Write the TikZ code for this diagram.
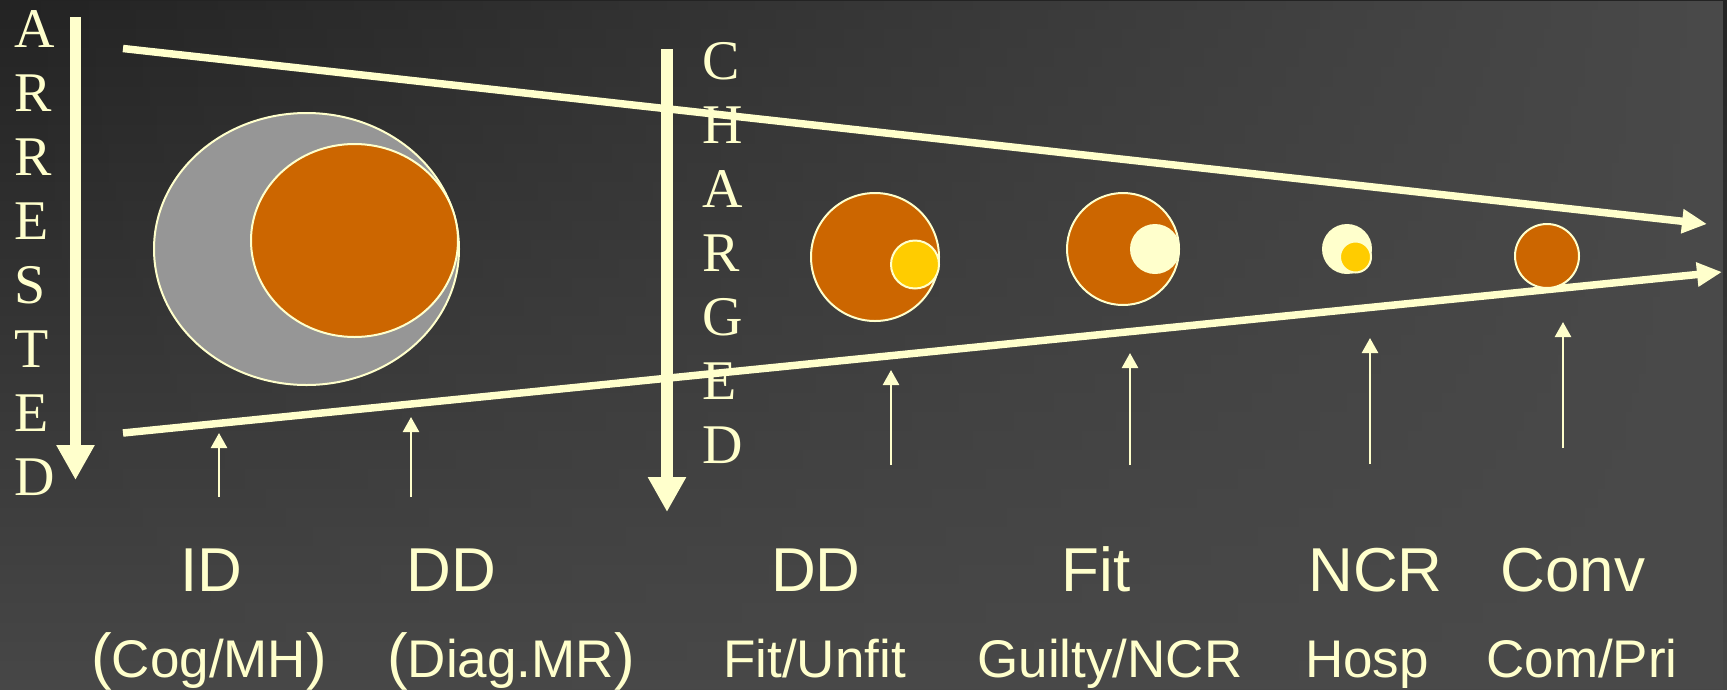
\documentclass[tikz,border=0pt]{standalone}
\usepackage{fontspec}
\newfontfamily\labelfont{Liberation Sans}
\newfontfamily\letterfont{Liberation Serif}
\usetikzlibrary{arrows.meta,fadings}
\definecolor{pale}{HTML}{FFFFCC}
\definecolor{rust}{HTML}{CC6600}
\definecolor{gold}{HTML}{FFCC00}
\definecolor{ashgray}{HTML}{969696}
\definecolor{bgtop}{HTML}{232323}
\definecolor{bgbot}{HTML}{474747}
\definecolor{bgright}{HTML}{4A4A4A}
\tikzfading[name=bgfade, left color=transparent!100, middle color=transparent!45, right color=transparent!0]
\newcommand\bigpar[1]{{\fontsize{62}{70}\selectfont#1}}
\begin{document}
\begin{tikzpicture}[x=1pt,y=-1pt,
  bigarrow/.style={pale, line width=11.5pt, -{Triangle[width=36pt,length=35pt]}},
  rayline/.style={pale, line width=7.5pt, -{Triangle[width=23pt,length=25pt]}},
  pointer/.style={pale, line width=2.5pt, -{Triangle[width=16pt,length=15pt]}},
  disc/.style={draw=pale, line width=2pt},
  vletter/.style={pale, inner sep=0pt, anchor=base west, font=\letterfont\fontsize{56}{60}\selectfont},
  toplabel/.style={pale, inner sep=0pt, anchor=base, font=\labelfont\fontsize{62}{70}\selectfont},
  sublabel/.style={pale, inner sep=0pt, anchor=base, font=\labelfont\fontsize{53}{60}\selectfont},
]
\useasboundingbox (0,0) rectangle (1727,689);
\shade[top color=bgtop, bottom color=bgbot] (0,0) rectangle (1727,689);
\fill[bgright, path fading=bgfade] (0,0) rectangle (1727,689);

% funnel lines
\coordinate (t0) at (123,48.5);
\coordinate (t1) at (1707,224);
\coordinate (b0) at (123,433);
\coordinate (b1) at (1722,272);
\draw[rayline] (t0) -- (t1);
\draw[rayline] (b0) -- (b1);

% big vertical arrows
\coordinate (a0) at (75.5,17);
\coordinate (a1) at (75.5,480);
\coordinate (c0) at (667,49);
\coordinate (c1) at (667,512);
\draw[bigarrow] (a0) -- (a1);
\draw[bigarrow] (c0) -- (c1);

% vertical words
\foreach \ch [count=\i from 0] in {A,R,R,E,S,T,E,D}
  \node[vletter] (ar\i) at (14,47+64*\i) {\ch};
\foreach \ch [count=\i from 0] in {C,H,A,R,G,E,D}
  \node[vletter] (ch\i) at (702,79+64*\i) {\ch};

% ellipses and circles
\filldraw[disc, fill=ashgray] (306.5,249) ellipse (152.5 and 136);
\filldraw[disc, fill=rust] (354.5,240.5) ellipse (103.5 and 96.5);
\filldraw[disc, fill=rust] (875,257) circle (64);
\filldraw[disc, fill=gold] (915,264.5) circle (24);
\filldraw[disc, fill=rust] (1123,249) circle (56);
\fill[pale] (1155,249) circle (25);
\fill[pale] (1347,249) circle (25);
\filldraw[disc, fill=gold] (1355.5,257) circle (15.5);
\filldraw[disc, fill=rust] (1547,256) circle (32);

% pointers
\foreach \n/\x/\yb/\yt in {p1/219/497/433, p2/411/497/417, p3/891/465/370, p4/1130/465/353, p5/1370/464/338, p6/1563/448/322}{
  \coordinate (\n s) at (\x,\yb);
  \coordinate (\n e) at (\x,\yt);
  \draw[pointer] (\n s) -- (\n e);
}

% labels
\node[toplabel] (l1) at (211,591) {ID};
\node[toplabel] (l2) at (451.6,591) {DD};
\node[toplabel] (l3) at (816,591) {DD};
\node[toplabel] (l4) at (1096,591) {Fit};
\node[toplabel] (l5) at (1375.6,591) {NCR};
\node[toplabel] (l6) at (1573,591) {Conv};

\node[sublabel] (s1) at (209,677) {\bigpar{(}Cog/MH\bigpar{)}};
\node[sublabel] (s2) at (511,677) {\bigpar{(}Diag.MR\bigpar{)}};
\node[sublabel] (s3) at (814.5,677) {Fit/Unfit};
\node[sublabel] (s4) at (1110,677) {Guilty/NCR};
\node[sublabel] (s5) at (1367,677) {Hosp};
\node[sublabel] (s6) at (1582,677) {Com/Pri};
\end{tikzpicture}
\end{document}
